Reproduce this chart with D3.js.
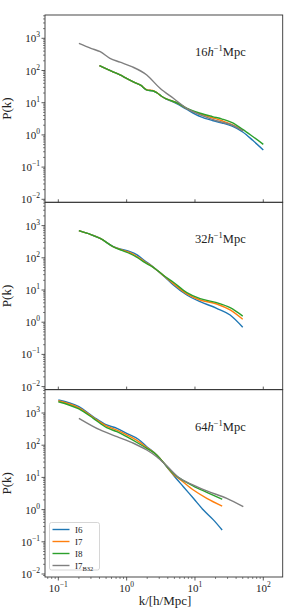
<!DOCTYPE html>
<html>
<head>
<meta charset="utf-8">
<script src="https://cdn.jsdelivr.net/npm/d3@7"></script>
<style>
  body { margin: 0; background: #fff; }
  svg { display: block; }
  text { font-family: "Liberation Serif", "Times New Roman", serif; fill: #222; }
</style>
</head>
<body>
<svg id="chart" width="286" height="608"></svg>
<script>
// data: [k, P(k)]
const seriesNames = ["I6", "I7", "I8", "I7_B32"];
const colors = ["#1f77b4", "#ff7f0e", "#2ca02c", "#7f7f7f"];
const panelLabels = ["16", "32", "64"];

// 16 h^-1 Mpc
const k16 = [0.4, 0.6, 0.8, 1.0, 1.3, 1.6, 2.0, 2.4, 2.8, 3.2, 3.8, 4.5, 5.5, 7.5, 12, 18, 25, 35, 50, 70, 100];
const p16_I6 = [142, 95, 73, 57, 43, 35, 24.5, 23.5, 20, 16.2, 13.0, 11.2, 9.2, 6.3, 3.7, 2.8, 2.35, 1.86, 1.23, 0.68, 0.34];
const p16_I7 = [142, 95, 73, 57, 43, 35, 24.8, 24, 20.3, 16.2, 13.2, 11.5, 9.8, 6.7, 4.4, 3.4, 2.75, 2.1, 1.38];
const p16_I8 = [142, 95, 73, 57, 43, 35, 24.5, 23.5, 20, 16.2, 13.2, 11.5, 9.8, 6.8, 4.7, 3.7, 3.1, 2.4, 1.48, 0.89, 0.51];
const k16_B32 = [0.2, 0.3, 0.41, 0.57, 0.8, 1.19, 1.97, 3.08, 4.83, 7.6, 11.9, 20.8, 36.5, 51];
const p16_B32 = [700, 490, 384, 239, 182, 132, 72.6, 28, 13.7, 6.7, 4.17, 2.75, 1.95, 1.32];

// 32 h^-1 Mpc
const k32 = [0.2, 0.3, 0.41, 0.64, 0.85, 1.12, 1.4, 1.86, 2.3, 2.76, 3.65, 4.83, 7.6, 11.9, 20.8, 32.7, 50];
const p32_I6 = [695, 525, 404, 221, 182, 155, 126, 79.4, 57.5, 41.7, 25.1, 14.3, 7.0, 4.34, 2.70, 1.67, 0.695];
const p32_I7 = [695, 525, 401, 220, 176, 145, 112, 74.1, 56.2, 41.9, 25.7, 15.8, 7.6, 4.9, 3.68, 2.4, 1.23];
const p32_I8 = [695, 525, 398, 219, 170, 135, 105, 70.5, 55, 41.9, 26.3, 17.4, 8.3, 5.37, 4.04, 2.82, 1.55];

// 64 h^-1 Mpc
const k64_I6 = [0.1, 0.2, 0.325, 0.51, 0.72, 1.0, 1.48, 1.97, 2.75, 3.86, 4.83, 6.76, 9.48, 13.3, 18.6, 25];
const p64_I6 = [2535, 1570, 767, 425, 335, 234, 153, 90, 50, 21.5, 11.9, 5.15, 2.24, 0.97, 0.48, 0.233];
const k64 = [0.1, 0.2, 0.325, 0.51, 0.72, 1.0, 1.48, 1.97, 2.75, 3.86, 4.83, 6.02, 9.48, 14.9, 25];
const p64_I7 = [2400, 1445, 724, 389, 295, 209, 132, 85, 50, 21.9, 12.3, 8.7, 4.06, 2.24, 1.29];
const p64_I8 = [2244, 1334, 685, 350, 263, 184, 115, 80, 50, 22.1, 13.2, 9.3, 5.4, 3.44, 2.09];
const k64_B32 = [0.2, 0.41, 0.72, 1.26, 1.97, 2.75, 3.86, 6.02, 9.48, 14.9, 29.2, 51];
const p64_B32 = [686, 297, 184, 115, 71, 44, 22.9, 9.3, 5.8, 3.8, 2.24, 1.23];

const zip = (ks, ps) => ps.map((p, i) => [ks[i], p]);

const panels = [
  [zip(k16, p16_I6), zip(k16, p16_I7), zip(k16, p16_I8), zip(k16_B32, p16_B32)],
  [zip(k32, p32_I6), zip(k32, p32_I7), zip(k32, p32_I8), []],
  [zip(k64_I6, p64_I6), zip(k64, p64_I7), zip(k64, p64_I8), zip(k64_B32, p64_B32)]
];

const svg = d3.select("#chart");
const left = 45, right = 282.7;
const tops = [15, 202.3, 389.7];
const ph = 187.3;

const x = d3.scaleLog().domain([Math.pow(10, -1.195), Math.pow(10, 2.284)]).range([left, right]);
const yDomain = [Math.pow(10, -2.093), Math.pow(10, 3.724)];

const majorK = [0.1, 1, 10, 100];
const majorP = [1e-2, 1e-1, 1, 10, 100, 1000];
const expLabel = v => {
  const e = Math.round(Math.log10(v));
  return e < 0 ? "\u2212" + (-e) : String(e);
};

// minor ticks for a log axis
function minorTicks(lo, hi) {
  const out = [];
  for (let e = Math.floor(Math.log10(lo)); e <= Math.ceil(Math.log10(hi)); e++) {
    for (let m = 2; m <= 9; m++) {
      const v = m * Math.pow(10, e);
      if (v >= lo && v <= hi) out.push(v);
    }
  }
  return out;
}

panels.forEach((series, pi) => {
  const top = tops[pi];
  const y = d3.scaleLog().domain(yDomain).range([top + ph, top]);
  const g = svg.append("g");

  g.append("clipPath").attr("id", "clip" + pi)
    .append("rect").attr("x", left).attr("y", top).attr("width", right - left).attr("height", ph);

  const line = d3.line()
    .x(d => x(d[0]))
    .y(d => y(d[1]))
    .curve(d3.curveMonotoneX);

  g.append("g").attr("clip-path", `url(#clip${pi})`)
    .selectAll("path")
    .data(series)
    .enter()
    .append("path")
    .attr("d", d => d.length ? line(d) : null)
    .attr("fill", "none")
    .attr("stroke", (d, i) => colors[i])
    .attr("stroke-width", 1.4);

  // y ticks
  g.selectAll("line.ymajor").data(majorP).enter().append("line")
    .attr("x1", left - 3.5).attr("x2", left)
    .attr("y1", d => y(d)).attr("y2", d => y(d))
    .attr("stroke", "#333").attr("stroke-width", 0.8);
  g.selectAll("line.yminor").data(minorTicks(yDomain[0], yDomain[1])).enter().append("line")
    .attr("x1", left - 2).attr("x2", left)
    .attr("y1", d => y(d)).attr("y2", d => y(d))
    .attr("stroke", "#333").attr("stroke-width", 0.6);

  const yl = g.selectAll("text.ytick").data(majorP).enter().append("text")
    .attr("x", 40).attr("y", d => y(d) + 4)
    .attr("text-anchor", "end")
    .attr("font-size", 11);
  yl.append("tspan").text("10");
  yl.append("tspan").attr("dy", -5).attr("font-size", 7.5).text(d => expLabel(d));

  g.append("text")
    .attr("transform", `translate(11,${top + ph / 2}) rotate(-90)`)
    .attr("text-anchor", "middle")
    .attr("font-size", 13)
    .text("P(k)");

  // x ticks
  if (pi < 2) {
    g.selectAll("line.xin").data(majorK).enter().append("line")
      .attr("x1", d => x(d)).attr("x2", d => x(d))
      .attr("y1", top + ph - 3).attr("y2", top + ph)
      .attr("stroke", "#333").attr("stroke-width", 0.8);
  } else {
    g.selectAll("line.xmajor").data(majorK).enter().append("line")
      .attr("x1", d => x(d)).attr("x2", d => x(d))
      .attr("y1", top + ph).attr("y2", top + ph + 3.5)
      .attr("stroke", "#333").attr("stroke-width", 0.8);
    g.selectAll("line.xminor").data(minorTicks(x.domain()[0], x.domain()[1])).enter().append("line")
      .attr("x1", d => x(d)).attr("x2", d => x(d))
      .attr("y1", top + ph).attr("y2", top + ph + 2)
      .attr("stroke", "#333").attr("stroke-width", 0.6);
    const xl = g.selectAll("text.xtick").data(majorK).enter().append("text")
      .attr("x", d => x(d)).attr("y", top + ph + 15)
      .attr("text-anchor", "middle")
      .attr("font-size", 11);
    xl.append("tspan").text("10");
    xl.append("tspan").attr("dy", -5).attr("font-size", 7.5).text(d => expLabel(d));

    g.append("text")
      .attr("x", 165).attr("y", top + ph + 28)
      .attr("text-anchor", "middle")
      .attr("font-size", 13)
      .text("k/[h/Mpc]");
  }

  // panel annotation
  const ann = g.append("text").attr("x", 195).attr("y", top + 41).attr("font-size", 12.5);
  ann.append("tspan").text(panelLabels[pi]);
  ann.append("tspan").attr("font-style", "italic").text("h");
  ann.append("tspan").attr("dy", -5).attr("font-size", 8.5).text("\u22121");
  ann.append("tspan").attr("dy", 5).text("Mpc");

  // frame
  g.append("rect")
    .attr("x", left).attr("y", top).attr("width", right - left).attr("height", ph)
    .attr("fill", "none").attr("stroke", "#333").attr("stroke-width", 0.9);
});

// legend in bottom panel
const legend = svg.append("g").attr("transform", "translate(49.5,522.5)");
legend.append("rect")
  .attr("width", 50).attr("height", 47.5).attr("rx", 2)
  .attr("fill", "#fff").attr("fill-opacity", 0.8)
  .attr("stroke", "#ccc").attr("stroke-width", 0.8);
seriesNames.forEach((name, i) => {
  const yy = 7 + i * 12;
  legend.append("line")
    .attr("x1", 3).attr("x2", 20).attr("y1", yy).attr("y2", yy)
    .attr("stroke", colors[i]).attr("stroke-width", 1.4);
  const t = legend.append("text").attr("x", 25.5).attr("y", yy + 3).attr("font-size", 9);
  const parts = name.split("_");
  t.append("tspan").text(parts[0]);
  if (parts[1]) t.append("tspan").attr("dy", 2).attr("font-size", 6.5).text(parts[1]);
});
</script>
</body>
</html>
